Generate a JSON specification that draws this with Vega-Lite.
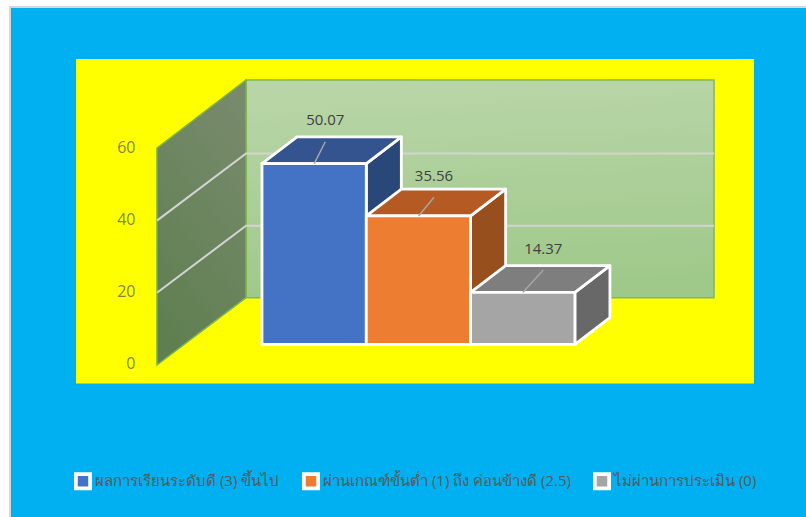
{
"$schema":"https://vega.github.io/schema/vega-lite/v6.json",
"width":798,"height":512,
"autosize":{"type":"none"},
"padding":{"left":10,"top":7,"right":0,"bottom":0},
"background":"#ffffff",
"view":{"fill":"#00B0F0","stroke":"#d6d6d6","strokeWidth":2},
"config":{"font":"Open Sans"},
"datasets":{
"panel":[{"x":-1.783,"x2":4.717,"y":-5.12,"y2":84.76}],
"backwall":[{"x":-0.153,"x2":4.334,"y":18.64,"y2":78.95}],
"sidewall":[{"x":-1.007,"y":0,"y2":60.1},{"x":-0.153,"y":18.64,"y2":78.95}],
"grid":[
{"level":20,"x":-1.007,"y":20},{"level":20,"x":-0.153,"y":38.6},{"level":20,"x":4.334,"y":38.6},
{"level":40,"x":-1.007,"y":40},{"level":40,"x":-0.153,"y":58.6},{"level":40,"x":4.334,"y":58.6}],
"bars":[
{"series":"ผลการเรียนระดับดี (3) ขึ้นไป","value":50.07,"x":0,"x2":1,"base":5.73,"top":55.8,"lx":0.501,"ly":55.8,"tx":0.607,"ty":61.85,"ty2":67.87},
{"series":"ผ่านเกณฑ์ขั้นต่ำ (1) ถึง ค่อนข้างดี (2.5)","value":35.56,"x":1,"x2":2,"base":5.73,"top":41.29,"lx":1.501,"ly":41.29,"tx":1.649,"ty":46.45,"ty2":52.35},
{"series":"ไม่ผ่านการประเมิน (0)","value":14.37,"x":2,"x2":3,"base":5.73,"top":20.1,"lx":2.501,"ly":20.1,"tx":2.697,"ty":26.3,"ty2":32.05}],
"sides":[
{"face":"a-side","x":1,"y":5.73,"y2":55.8},{"face":"a-side","x":1.336,"y":13.15,"y2":63.22},
{"face":"b-side","x":2,"y":5.73,"y2":41.29},{"face":"b-side","x":2.336,"y":13.15,"y2":48.71},
{"face":"c-side","x":3,"y":5.73,"y2":20.1},{"face":"c-side","x":3.336,"y":13.15,"y2":27.52}],
"tops":[
{"face":"a-top","y":55.8,"x":0,"x2":1},{"face":"a-top","y":63.22,"x":0.336,"x2":1.336},
{"face":"b-top","y":41.29,"x":1,"x2":2},{"face":"b-top","y":48.71,"x":1.336,"x2":2.336},
{"face":"c-top","y":20.1,"x":2,"x2":3},{"face":"c-top","y":27.52,"x":2.336,"x2":3.336}]
},
"encoding":{
"x":{"type":"quantitative","scale":{"domain":[-2.416,5.235],"nice":false,"zero":false},"axis":null}
},
"layer":[
{"data":{"name":"panel"},"mark":{"type":"rect","fill":"#FFFF00"},
 "encoding":{"x":{"field":"x","type":"quantitative"},"x2":{"field":"x2"},
 "y":{"field":"y","type":"quantitative","scale":{"domain":[-42.66,99.17],"nice":false,"zero":false},
  "axis":{"values":[0,20,40,60],"title":null,"domain":false,"ticks":false,"grid":false,"zindex":1,"labelPadding":0,"offset":-125,"labelFontSize":16,"labelColor":"#595959","labelOpacity":0.75,"labelOffset":-1,"labelFont":"Open Sans"}},
 "y2":{"field":"y2"}}},
{"data":{"name":"backwall"},"mark":{"type":"rect","strokeWidth":1.5,"stroke":"#85b654","fill":{"gradient":"linear","x1":0,"y1":0,"x2":0.1,"y2":1,"stops":[{"offset":0,"color":"#BAD6A9"},{"offset":1,"color":"#9FC98A"}]}},
 "encoding":{"x":{"field":"x","type":"quantitative"},"x2":{"field":"x2"},"y":{"field":"y","type":"quantitative"},"y2":{"field":"y2"}}},
{"data":{"name":"sidewall"},"mark":{"type":"area","strokeWidth":1.5,"stroke":"#7DB54C","fill":{"gradient":"linear","x1":0.7,"y1":0,"x2":0.3,"y2":1,"stops":[{"offset":0,"color":"#778A6C"},{"offset":1,"color":"#5F7F50"}]}},
 "encoding":{"x":{"field":"x","type":"quantitative"},"y":{"field":"y","type":"quantitative"},"y2":{"field":"y2"}}},
{"data":{"name":"grid"},"mark":{"type":"line","stroke":"#d4d4d4","strokeWidth":2,"interpolate":"linear"},
 "encoding":{"x":{"field":"x","type":"quantitative"},"y":{"field":"y","type":"quantitative"},"detail":{"field":"level"}}},
{"data":{"name":"sides"},"mark":{"type":"area","stroke":"#ffffff","strokeWidth":2.8,"strokeJoin":"round","opacity":1},
 "encoding":{"x":{"field":"x","type":"quantitative"},"y":{"field":"y","type":"quantitative"},"y2":{"field":"y2"},
 "fill":{"field":"face","type":"nominal","legend":null,"scale":{"domain":["a-side","b-side","c-side","a-top","b-top","c-top"],"range":["#2A4779","#974F1E","#686868","#33548F","#B45A22","#7E7E7E"]}}}},
{"data":{"name":"tops"},"mark":{"type":"area","orient":"horizontal","stroke":"#ffffff","strokeWidth":2.8,"strokeJoin":"round","opacity":1},
 "encoding":{"x":{"field":"x","type":"quantitative"},"x2":{"field":"x2"},"y":{"field":"y","type":"quantitative"},
 "fill":{"field":"face","type":"nominal","legend":null}}},
{"data":{"name":"bars"},"mark":{"type":"rect","stroke":"#ffffff","strokeWidth":2.8,"opacity":1},
 "encoding":{"x":{"field":"x","type":"quantitative"},"x2":{"field":"x2"},"y":{"field":"base","type":"quantitative"},"y2":{"field":"top"},
 "color":{"field":"series","type":"nominal","sort":null,
  "scale":{"domain":["ผลการเรียนระดับดี (3) ขึ้นไป","ผ่านเกณฑ์ขั้นต่ำ (1) ถึง ค่อนข้างดี (2.5)","ไม่ผ่านการประเมิน (0)"],"range":["#4472C4","#ED7D31","#A5A5A5"]},
  "legend":{"title":null,"orient":"none","direction":"horizontal","columns":3,"legendX":64,"legendY":465,"symbolType":"square","symbolSize":203,"symbolStrokeColor":"#ffffff","symbolStrokeWidth":3.75,"symbolOpacity":1,"labelFontSize":15,"labelColor":"#595959","labelLimit":400,"labelOffset":3,"columnPadding":16,"padding":0}}}},
{"data":{"name":"bars"},"mark":{"type":"rule","stroke":"#a6a6a6","strokeWidth":1.5},
 "encoding":{"x":{"field":"lx","type":"quantitative"},"x2":{"field":"tx"},"y":{"field":"ly","type":"quantitative"},"y2":{"field":"ty"}}},
{"data":{"name":"bars"},"mark":{"type":"text","fontSize":15,"color":"#404040","font":"Open Sans","baseline":"middle"},
 "encoding":{"x":{"field":"tx","type":"quantitative"},"y":{"field":"ty2","type":"quantitative"},"text":{"field":"value","type":"quantitative","format":".2f"}}}
]
}
